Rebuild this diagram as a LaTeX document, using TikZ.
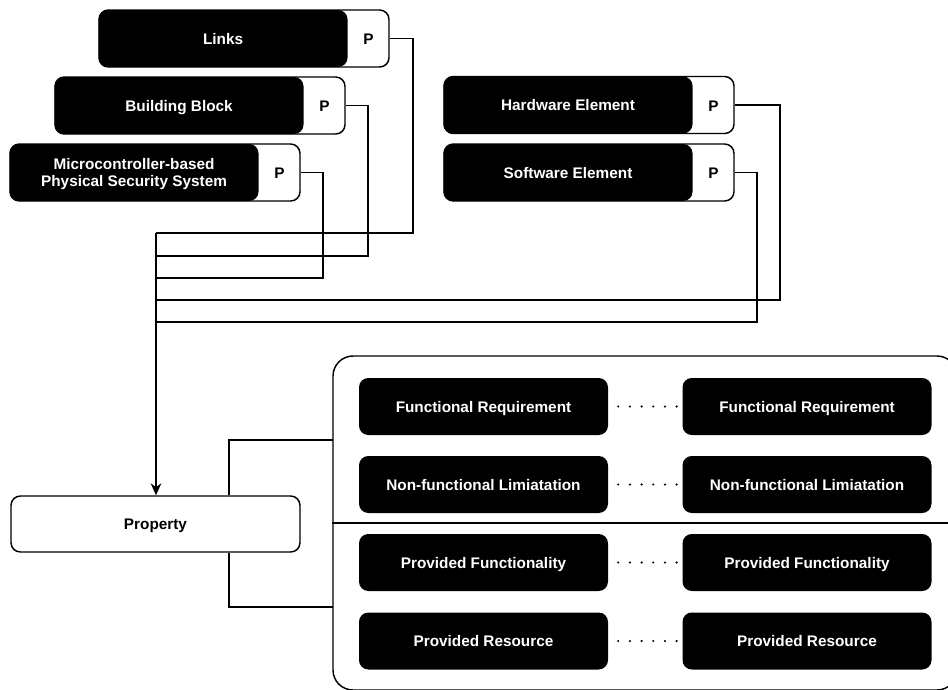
\documentclass[tikz,border=0pt]{standalone}
\usepackage{fontspec}
\setmainfont{Liberation Sans}
\usetikzlibrary{arrows.meta}

\tikzset{
  txt/.style={font=\bfseries\fontsize{11.5}{13.3}\selectfont},
  oneline/.style={text height=8.5pt, text depth=0pt},
  outerbox/.style={draw, fill=white, line width=1.1pt, rounded corners=7pt,
    minimum width=217.5pt, minimum height=42.75pt, inner sep=0pt},
  namebox/.style={txt, fill=black, text=white, rounded corners=7pt, align=center,
    minimum width=186.75pt, minimum height=42.75pt, inner sep=0pt},
  propbox/.style={txt, oneline, draw, fill=white, line width=1.1pt, rounded corners=7pt,
    minimum width=216.75pt, minimum height=42pt},
  reqbox/.style={txt, oneline, fill=black, text=white, rounded corners=7pt,
    minimum width=186.75pt, minimum height=42.75pt, inner sep=0pt},
  conn/.style={line width=1.4pt},
  dotline/.style={line width=1.8pt, line cap=round, dash pattern=on 0pt off 8.75pt}
}

\begin{document}
\begin{tikzpicture}[x=0.75pt, y=-0.75pt]
  \useasboundingbox (0,0) rectangle (948,689);

  % elements with a property port
  \node[outerbox] (links) at (244,38.5) {};
  \node[namebox, oneline, anchor=west] (linksname) at (links.west) {Links};
  \node[txt, oneline] (linksP) at (368.5,39) {P};

  \node[outerbox] (block) at (200,105.5) {};
  \node[namebox, oneline, anchor=west] (blockname) at (block.west) {Building Block};
  \node[txt, oneline] (blockP) at (324.5,106) {P};

  \node[outerbox] (mpss) at (155,172.5) {};
  \node[namebox, text depth=-1.5pt, anchor=west] (mpssname) at (mpss.west)
    {Microcontroller-based\\Physical Security System};
  \node[txt, oneline] (mpssP) at (279.5,173) {P};

  \node[outerbox] (hw) at (589,105) {};
  \node[namebox, oneline, anchor=west] (hwname) at (hw.west) {Hardware Element};
  \node[txt, oneline] (hwP) at (713.5,106) {P};

  \node[outerbox] (sw) at (589,172.5) {};
  \node[namebox, oneline, anchor=west] (swname) at (sw.west) {Software Element};
  \node[txt, oneline] (swP) at (713.5,173) {P};

  % property
  \node[propbox] (prop) at (155.5,524) {Property};

  % bus
  \coordinate (j1) at (156,233);
  \coordinate (j2) at (156,256);
  \coordinate (j3) at (156,278);
  \coordinate (j4) at (156,300);
  \coordinate (j5) at (156,322);
  \draw[conn] (links.east) -- ++(23,0) |- (j1);
  \draw[conn] (block.east) -- ++(22,0) |- (j2);
  \draw[conn] (mpss.east) -- ++(22,0) |- (j3);
  \draw[conn] (hw.east) -- ++(45,0) |- (j4);
  \draw[conn] (sw.east) -- ++(22,0) |- (j5);
  \draw[conn, -{Stealth[length=9pt, width=8pt]}] (j1) -- (j1 |- prop.north);

  % container
  \node[draw, line width=1.1pt, rounded corners=15pt, minimum width=468pt,
    minimum height=250.5pt, inner sep=0pt] (cont) at (645,523) {};
  \draw[line width=1.1pt] (cont.west) -- (cont.east);
  \coordinate (in1) at (333,440);
  \coordinate (in2) at (333,607);
  \draw[conn] ([xshift=-54pt]prop.north east) |- (in1);
  \draw[conn] ([xshift=-54pt]prop.south east) |- (in2);

  \node[reqbox] (fr1) at (483.5,406.5) {Functional Requirement};
  \node[reqbox] (fr2) at (807,406.5) {Functional Requirement};
  \node[reqbox] (nl1) at (483.5,484.5) {Non-functional Limiatation};
  \node[reqbox] (nl2) at (807,484.5) {Non-functional Limiatation};
  \node[reqbox] (pf1) at (483.5,562.5) {Provided Functionality};
  \node[reqbox] (pf2) at (807,562.5) {Provided Functionality};
  \node[reqbox] (pr1) at (483.5,641) {Provided Resource};
  \node[reqbox] (pr2) at (807,641) {Provided Resource};

  \draw[dotline] ([xshift=7.5pt]fr1.east) -- (fr2.west);
  \draw[dotline] ([xshift=7.5pt]nl1.east) -- (nl2.west);
  \draw[dotline] ([xshift=7.5pt]pf1.east) -- (pf2.west);
  \draw[dotline] ([xshift=7.5pt]pr1.east) -- (pr2.west);
\end{tikzpicture}
\end{document}
